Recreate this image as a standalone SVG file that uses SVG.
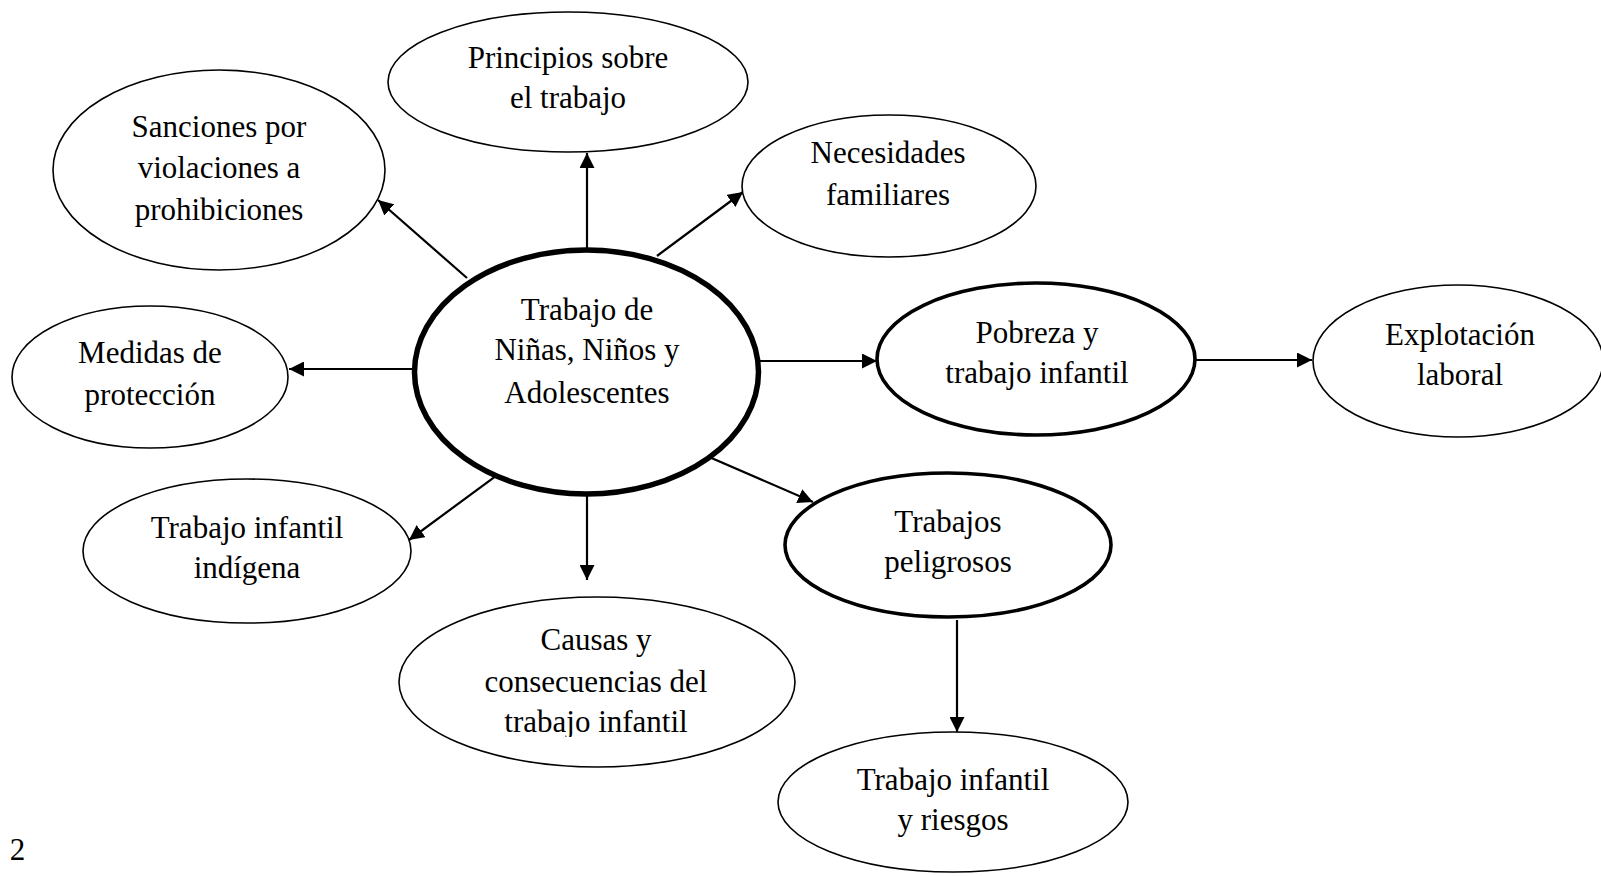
<svg xmlns="http://www.w3.org/2000/svg" width="1601" height="876" viewBox="0 0 1601 876">
<style>
.n{fill:#fff;stroke:#000;stroke-width:1.6}
.b{fill:#fff;stroke:#000;stroke-width:3.6}
.c{fill:#fff;stroke:#000;stroke-width:5.5}
text{font-family:"Liberation Serif","Times New Roman",serif;font-size:31px;fill:#000;text-anchor:middle}
.e line{stroke:#000;stroke-width:2.2;marker-end:url(#ah)}
</style>
<defs>
<marker id="ah" markerUnits="userSpaceOnUse" markerWidth="16" markerHeight="15" refX="15" refY="7.5" orient="auto">
<path d="M0,0 L15,7.5 L0,15 z" fill="#000"/>
</marker>
<clipPath id="cc"><rect x="380" y="590" width="430" height="147"/></clipPath>
</defs>
<rect width="1601" height="876" fill="#fff"/>
<g class="e" id="connectors">
<line x1="587" y1="248" x2="587" y2="153"/>
<line x1="467" y1="278" x2="378" y2="200"/>
<line x1="657" y1="256" x2="743" y2="192"/>
<line x1="414" y1="369" x2="289" y2="369"/>
<line x1="758" y1="361" x2="877" y2="361"/>
<line x1="1195" y1="360" x2="1312" y2="360"/>
<line x1="519" y1="459" x2="409" y2="540"/>
<line x1="587" y1="467" x2="587" y2="580"/>
<line x1="686" y1="447" x2="813" y2="502"/>
<line x1="957" y1="620" x2="957" y2="732"/>
</g>
<g id="principios"><ellipse class="n" cx="568" cy="82" rx="180" ry="70"/><text x="568" y="68">Principios sobre</text><text x="568" y="108">el trabajo</text></g>
<g id="sanciones"><ellipse class="n" cx="219" cy="170" rx="166" ry="100"/><text x="219" y="137">Sanciones por</text><text x="219" y="178">violaciones a</text><text x="219" y="220">prohibiciones</text></g>
<g id="necesidades"><ellipse class="n" cx="889" cy="186" rx="147" ry="71"/><text x="888" y="163">Necesidades</text><text x="888" y="205">familiares</text></g>
<g id="medidas"><ellipse class="n" cx="150" cy="377" rx="138" ry="71"/><text x="150" y="363">Medidas de</text><text x="150" y="405">protección</text></g>
<g id="centro"><ellipse class="c" cx="586.5" cy="372" rx="172" ry="122"/><text x="587" y="320">Trabajo de</text><text x="587" y="360">Niñas, Niños y</text><text x="587" y="403">Adolescentes</text></g>
<g id="pobreza"><ellipse class="b" cx="1036" cy="359" rx="159" ry="76"/><text x="1037" y="343">Pobreza y</text><text x="1037" y="383">trabajo infantil</text></g>
<g id="explotacion"><ellipse class="n" cx="1458" cy="361" rx="145" ry="76"/><text x="1460" y="345">Explotación</text><text x="1460" y="385">laboral</text></g>
<g id="indigena"><ellipse class="n" cx="247" cy="551" rx="164" ry="72"/><text x="247" y="538">Trabajo infantil</text><text x="247" y="578">indígena</text></g>
<g id="causas"><ellipse class="n" cx="597" cy="682" rx="198" ry="85"/><g clip-path="url(#cc)"><text x="596" y="650">Causas y</text><text x="596" y="692">consecuencias del</text><text x="596" y="732">trabajo infantil</text></g></g>
<g id="peligrosos"><ellipse class="b" cx="948" cy="545" rx="163" ry="72"/><text x="948" y="532">Trabajos</text><text x="948" y="572">peligrosos</text></g>
<g id="riesgos"><ellipse class="n" cx="953" cy="802" rx="175" ry="70"/><text x="953" y="790">Trabajo infantil</text><text x="953" y="830">y riesgos</text></g>
<text x="17.5" y="860">2</text>
</svg>
